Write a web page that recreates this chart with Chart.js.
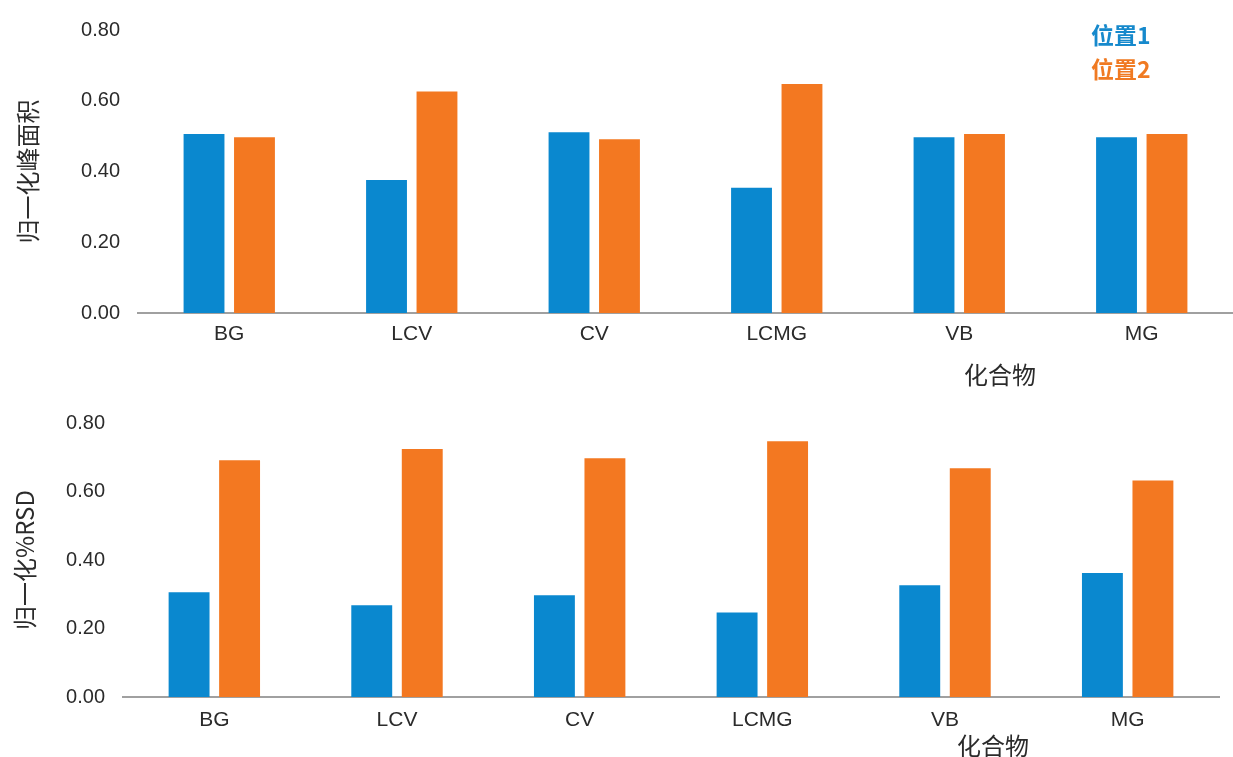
<!DOCTYPE html>
<html lang="zh">

<head>
  <meta charset="UTF-8">
  <title>归一化峰面积 / 归一化%RSD</title>
  <script src="https://cdn.jsdelivr.net/npm/chart.js"></script>
  <style>
    body { margin: 0; background: #fff; font-family: "Liberation Sans", "Noto Sans CJK SC", sans-serif; }
    .painel { position: absolute; left: 0; width: 1233px; }
    #painelArea { top: 0; height: 390px; }
    #painelRsd { top: 390px; height: 367px; }
    .rotulo { position: absolute; transform: translate(-50%, -50%); white-space: nowrap;
      font-family: "Noto Sans CJK SC", sans-serif; font-size: 24px; color: #2b2b2b; line-height: 1; }
    .legenda { position: absolute; left: 1091px; font-family: "Noto Sans CJK SC", "Liberation Sans", sans-serif;
      font-weight: bold; font-size: 23px; line-height: 1; transform: translateY(-50%); }
  </style>
</head>

<body>

  <div class="painel" id="painelArea"><canvas id="id_area"></canvas></div>
  <div class="painel" id="painelRsd"><canvas id="id_rsd"></canvas></div>

  <div class="legenda" style="top:34px;color:#1689cc">位置1</div>
  <div class="legenda" style="top:68px;color:#f07a22">位置2</div>

  <div class="rotulo" style="left:1000px;top:374px">化合物</div>
  <div class="rotulo" style="left:993px;top:745px">化合物</div>

<script>

// dados
var compostos = ['BG', 'LCV', 'CV', 'LCMG', 'VB', 'MG']
var nomesSeries = ['位置1', '位置2']
var areaPos1 = [0.506, 0.376, 0.511, 0.354, 0.497, 0.497]
var areaPos2 = [0.497, 0.626, 0.491, 0.647, 0.506, 0.506]
var rsdPos1 = [0.306, 0.268, 0.297, 0.247, 0.326, 0.362]
var rsdPos2 = [0.691, 0.724, 0.697, 0.747, 0.668, 0.632]
var ticksY = [0, 0.2, 0.4, 0.6, 0.8]

var azul = '#0a88cf'
var laranja = '#f37821'
var corTexto = '#2b2b2b'

function criarGrafico(id, serie1, serie2, tituloY, cfg) {
  var ctx = document.getElementById(id).getContext('2d')
  return new Chart(ctx, {
    type: 'bar',
    data: {
      labels: compostos,
      datasets: [
        { label: nomesSeries[0], data: serie1, backgroundColor: azul,
          categoryPercentage: 0.553, barPercentage: 0.81 },
        { label: nomesSeries[1], data: serie2, backgroundColor: laranja,
          categoryPercentage: 0.553, barPercentage: 0.81 }
      ]
    },
    options: {
      responsive: true,
      maintainAspectRatio: false,
      animation: false,
      layout: { padding: { top: cfg.topo, right: cfg.direita, left: 0, bottom: 0 } },
      plugins: { legend: { display: false }, tooltip: { enabled: false } },
      scales: {
        x: {
          grid: { display: false, drawTicks: false },
          border: { display: true, color: '#a0a0a0', width: 2 },
          ticks: { color: corTexto, padding: cfg.padX, font: { size: 21, family: 'Liberation Sans' } },
          afterFit: function (s) { s.height = cfg.alturaX }
        },
        y: {
          min: 0,
          max: 0.8,
          afterBuildTicks: function (s) { s.ticks = ticksY.map(v => ({ value: v })) },
          grid: { display: false, drawTicks: false },
          border: { display: false },
          ticks: {
            color: corTexto, padding: 18, font: { size: 20, family: 'Liberation Sans' },
            callback: function (v) { return Number(v).toFixed(2) }
          },
          title: {
            display: true, text: tituloY, color: corTexto,
            padding: { top: cfg.padTitulo, bottom: 0 },
            font: { size: 24, family: 'Noto Sans CJK SC' }
          },
          afterFit: function (s) { s.width = cfg.larguraY }
        }
      }
    }
  })
}

var graficoArea = criarGrafico('id_area', areaPos1, areaPos2, '归一化峰面积',
  { topo: 27, direita: 0, alturaX: 77, larguraY: 138, padX: 9, padTitulo: 13 })

var graficoRsd = criarGrafico('id_rsd', rsdPos1, rsdPos2, '归一化%RSD',
  { topo: 33, direita: 14, alturaX: 60, larguraY: 123, padX: 11, padTitulo: 10 })

</script>
</body>

</html>
